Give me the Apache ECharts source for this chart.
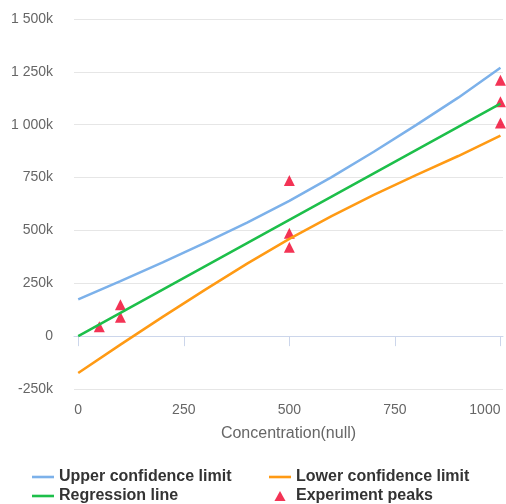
<!DOCTYPE html>
<html><head><meta charset="utf-8">
<script src="https://cdn.jsdelivr.net/npm/echarts@6/dist/echarts.min.js"></script>
<style>html,body{margin:0;padding:0;background:#fff}#c{width:506px;height:504px}</style>
</head><body><div id="c"></div>
<script>
const concentrations = [0, 100, 200, 300, 400, 500, 600, 700, 800, 900, 1000];
const upperLimit = [174000, 260000, 349000, 441000, 537000, 640000, 752000, 872000, 998000, 1128000, 1269000];
const regressionLine = [0, 110000, 220000, 330000, 440000, 550000, 660000, 770000, 880000, 990000, 1100000];
const lowerLimit = [-174000, -40000, 91000, 219000, 343000, 460000, 568000, 668000, 762000, 852000, 948000];
const peakConcentrations = [50, 100, 100, 500, 500, 500, 1000, 1000, 1000];
const peakValues = [45000, 149000, 89000, 736000, 487000, 420000, 1210000, 1109000, 1008000];
const xTicks = [0, 250, 500, 750, 1000];
const yTicks = [-250000, 0, 250000, 500000, 750000, 1000000, 1250000, 1500000];

const pair = (xs, ys) => xs.map((x, i) => [x, ys[i]]);
function fmtY(v) {
  if (v === 0) return '0';
  const k = Math.round(v / 1000);
  const s = String(Math.abs(k)).replace(/\B(?=(\d{3})+(?!\d))/g, ' ');
  return (k < 0 ? '-' : '') + s + 'k';
}
const chart = echarts.init(document.getElementById('c'), null, {renderer: 'canvas'});
const font = 'Liberation Sans, Arial, sans-serif';
const legendText = {color: '#333333', fontSize: 16, fontWeight: 'bold', fontFamily: font};
const lineIcon = 'path://M0 0H22V2.6H0Z';
const legendBase = {orient: 'vertical', top: 469, height: 40, padding: 0, itemWidth: 22, itemHeight: 10, itemGap: 3, textStyle: legendText};
chart.setOption({
  animation: false,
  grid: {left: 74, right: 3, top: 19, bottom: 115, outerBoundsMode: 'none', containLabel: false},
  xAxis: {
    type: 'value', min: -10, max: 1006,
    name: 'Concentration(null)', nameLocation: 'middle', nameGap: 37,
    nameTextStyle: {color: '#666666', fontSize: 16, fontFamily: font},
    axisLine: {show: true, lineStyle: {color: '#ccd6eb', width: 1}},
    axisTick: {show: true, length: 10, lineStyle: {color: '#ccd6eb'}, customValues: xTicks},
    axisLabel: {color: '#666666', fontSize: 14, margin: 14, customValues: xTicks, formatter: v => String(v),
      alignMaxLabel: 'right', fontFamily: font},
    splitLine: {show: false}
  },
  yAxis: {
    type: 'value', min: yTicks[0], max: yTicks[yTicks.length - 1], interval: 250000,
    axisLine: {show: false}, axisTick: {show: false},
    axisLabel: {color: '#666666', fontSize: 14, margin: 21, formatter: fmtY, fontFamily: font},
    splitLine: {show: true, lineStyle: {color: '#e6e6e6', width: 1}}
  },
  legend: [
    Object.assign({}, legendBase, {left: 32,
      data: [{name: 'Upper confidence limit', icon: lineIcon}, {name: 'Regression line', icon: lineIcon}]}),
    Object.assign({}, legendBase, {left: 269,
      data: [{name: 'Lower confidence limit', icon: lineIcon}, {name: 'Experiment peaks', icon: 'path://M5 0L10 9H0Z'}]})
  ],
  series: [
    {name: 'Upper confidence limit', type: 'line', symbol: 'none', data: pair(concentrations, upperLimit),
     lineStyle: {color: '#7cb1ea', width: 2.5}, itemStyle: {color: '#7cb1ea'}},
    {name: 'Lower confidence limit', type: 'line', symbol: 'none', data: pair(concentrations, lowerLimit),
     lineStyle: {color: '#ff9a14', width: 2.5}, itemStyle: {color: '#ff9a14'}},
    {name: 'Regression line', type: 'line', symbol: 'none', data: pair(concentrations, regressionLine),
     lineStyle: {color: '#1dbf4a', width: 2.5}, itemStyle: {color: '#1dbf4a'}},
    {name: 'Experiment peaks', type: 'scatter', symbol: 'triangle', symbolSize: 11, data: pair(peakConcentrations, peakValues),
     itemStyle: {color: '#f0002a'}}
  ]
});
</script></body></html>
